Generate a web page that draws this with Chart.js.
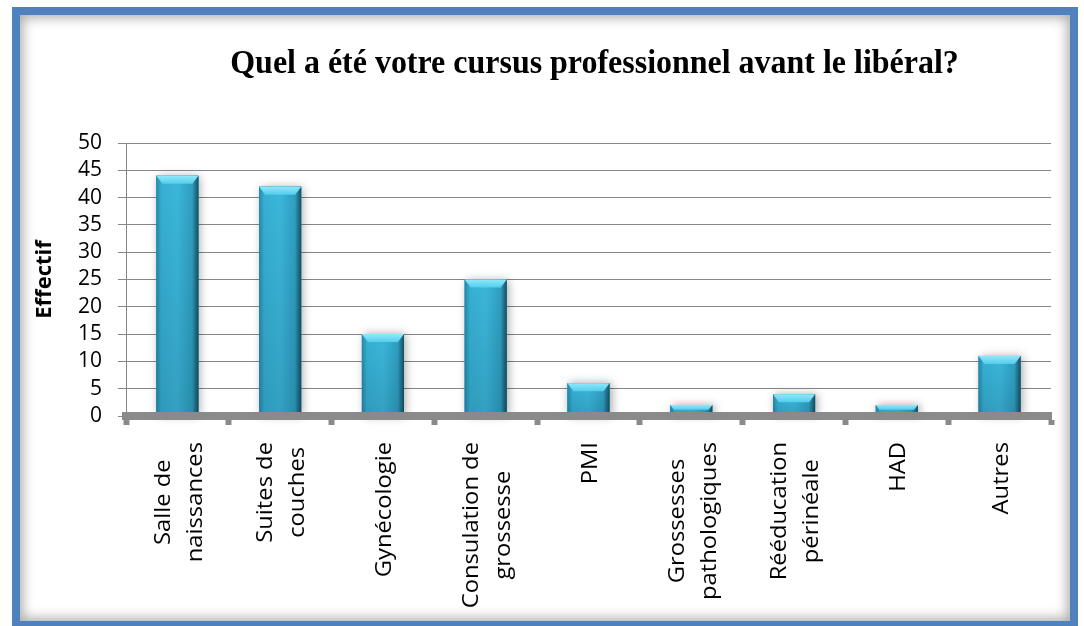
<!DOCTYPE html>
<html lang="fr">
<head>
<meta charset="utf-8">
<title>Cursus professionnel avant le libéral</title>
<script src="https://cdn.jsdelivr.net/npm/chart.js@4.4.0/dist/chart.umd.min.js"></script>
<style>
  html, body { margin: 0; padding: 0; background: #fff; }
  body { width: 1084px; height: 626px; position: relative; overflow: hidden; }
  .frame {
    position: absolute;
    left: 12px; top: 7px;
    width: 1066px; height: 622px;
    box-sizing: border-box;
    border: 8px solid #4f81bd;
    background: #fff;
    box-shadow: inset 0 0 12px 3px rgba(0, 0, 0, 0.32);
  }
  #chart { position: absolute; left: 0; top: 0; }
</style>
</head>
<body>
<div class="frame"></div>
<canvas id="chart" width="1084" height="626"></canvas>
<script>
// Data
const titleText = 'Quel a été votre cursus professionnel avant le libéral?';
const categories = [
  ['Salle de', 'naissances'],
  ['Suites de', 'couches'],
  ['Gynécologie'],
  ['Consulation de', 'grossesse'],
  ['PMI'],
  ['Grossesses', 'pathologiques'],
  ['Rééducation', 'périnéale'],
  ['HAD'],
  ['Autres']
];
const effectifs = [44, 42, 15, 25, 6, 2, 4, 2, 11];
const yMin = 0;
const yMax = 50;
const yStep = 5;

const GRID = '#868686';
const FLOOR = '#8a8a8a';

// soft shadow behind each bar
const barShadow = {
  id: 'barShadow',
  beforeDatasetsDraw(chart) {
    const ctx = chart.ctx;
    chart.getDatasetMeta(0).data.forEach(bar => {
      const { x, y, base, width } = bar.getProps(['x', 'y', 'base', 'width'], true);
      ctx.save();
      ctx.shadowColor = 'rgba(0, 0, 0, 0.35)';
      ctx.shadowBlur = 9;
      ctx.shadowOffsetX = 2;
      ctx.fillStyle = '#2f9fc0';
      ctx.fillRect(x - width / 2, y, width, base - y);
      ctx.restore();
    });
  }
};

// bevel look of the bars (3D Excel style)
const barBevel = {
  id: 'barBevel',
  afterDatasetsDraw(chart) {
    const ctx = chart.ctx;
    chart.getDatasetMeta(0).data.forEach(bar => {
      const { x, y, base, width } = bar.getProps(['x', 'y', 'base', 'width'], true);
      const left = x - width / 2;
      const right = x + width / 2;
      const h = base - y;

      ctx.save();
      const hg = ctx.createLinearGradient(left, 0, right, 0);
      hg.addColorStop(0, '#2688a8');
      hg.addColorStop(0.12, '#36b0d3');
      hg.addColorStop(0.5, '#3bb7da');
      hg.addColorStop(0.85, '#2f9fc1');
      hg.addColorStop(0.93, '#22738c');
      hg.addColorStop(1, '#164f61');
      ctx.fillStyle = hg;
      ctx.fillRect(left, y, width, h);

      const vg = ctx.createLinearGradient(0, y, 0, base);
      vg.addColorStop(0, 'rgba(0, 20, 40, 0)');
      vg.addColorStop(1, 'rgba(0, 20, 40, 0.14)');
      ctx.fillStyle = vg;
      ctx.fillRect(left, y, width, h);

      // top cap
      const capH = Math.min(8, h * 0.45);
      const inset = Math.min(6, capH * 0.8);
      const cg = ctx.createLinearGradient(0, y, 0, y + capH);
      cg.addColorStop(0, '#8fe9fb');
      cg.addColorStop(1, '#52cdec');
      ctx.fillStyle = cg;
      ctx.beginPath();
      ctx.moveTo(left, y);
      ctx.lineTo(right, y);
      ctx.lineTo(right - inset, y + capH);
      ctx.lineTo(left + inset, y + capH);
      ctx.closePath();
      ctx.fill();
      ctx.restore();
    });
  }
};

// title and rotated category labels
const chartText = {
  id: 'chartText',
  afterDraw(chart) {
    const ctx = chart.ctx;
    const area = chart.chartArea;
    const xScale = chart.scales.x;

    ctx.save();
    ctx.fillStyle = '#000';
    ctx.font = 'bold 34px "Liberation Serif"';
    ctx.textAlign = 'center';
    ctx.textBaseline = 'middle';
    ctx.translate((area.left + area.right) / 2 + 6, 64);
    ctx.scale(0.94, 1);
    ctx.fillText(titleText, 0, 0);
    ctx.restore();

    ctx.save();
    ctx.fillStyle = '#000';
    ctx.font = '22px "Open Sans"';
    ctx.textAlign = 'center';
    ctx.textBaseline = 'middle';
    const pitch = 32;
    categories.forEach((lines, i) => {
      const cx = xScale.getPixelForValue(i);
      const w = Math.max(...lines.map(l => ctx.measureText(l).width)) * 1.08;
      const cy = xScale.top + 26 + w / 2;
      lines.forEach((line, k) => {
        const off = (k - (lines.length - 1) / 2) * pitch + 2;
        ctx.save();
        ctx.translate(cx + off, cy);
        ctx.rotate(-Math.PI / 2);
        ctx.scale(1.08, 1);
        ctx.fillText(line, 0, 0);
        ctx.restore();
      });
    });
    ctx.restore();
  }
};

new Chart(document.getElementById('chart'), {
  type: 'bar',
  data: {
    labels: categories,
    datasets: [{
      label: 'Effectif',
      data: effectifs,
      backgroundColor: '#33aacc',
      borderWidth: 0,
      barPercentage: 0.41,
      categoryPercentage: 1
    }]
  },
  options: {
    responsive: false,
    devicePixelRatio: 1,
    animation: false,
    layout: {
      padding: { left: 0, right: 33, top: 143, bottom: 0 }
    },
    plugins: {
      legend: { display: false },
      tooltip: { enabled: false },
      title: { display: false }
    },
    scales: {
      x: {
        afterFit(scale) { scale.height = 210; },
        ticks: { display: false },
        grid: {
          drawOnChartArea: false,
          drawTicks: true,
          tickLength: 9,
          tickWidth: 6,
          tickColor: FLOOR,
          offset: true
        },
        border: { color: FLOOR, width: 8, z: 1 }
      },
      y: {
        min: yMin,
        max: yMax,
        afterFit(scale) { scale.width = 126; },
        ticks: {
          stepSize: yStep,
          autoSkip: false,
          color: '#000',
          padding: 16,
          font: { family: '"Open Sans"', size: 21 }
        },
        grid: {
          color: GRID,
          lineWidth: 1,
          tickLength: 8,
          tickColor: GRID
        },
        border: { color: GRID, width: 1 },
        title: {
          display: true,
          text: 'Effectif',
          color: '#000',
          font: { family: '"Open Sans"', size: 22, weight: 'bold' },
          padding: { top: 32, bottom: 0 }
        }
      }
    }
  },
  plugins: [barShadow, barBevel, chartText]
});
</script>
</body>
</html>
